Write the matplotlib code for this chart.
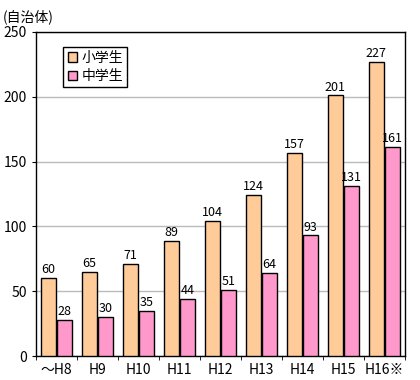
import numpy as np
import matplotlib
matplotlib.use('Agg')
import matplotlib.pyplot as plt
from matplotlib.patches import Patch

plt.rcParams['font.family'] = ['Noto Sans CJK JP', 'DejaVu Sans']

years = ['～H8', 'H9', 'H10', 'H11', 'H12', 'H13', 'H14', 'H15', 'H16※']
elementary = [60, 65, 71, 89, 104, 124, 157, 201, 227]
junior = [28, 30, 35, 44, 51, 64, 93, 131, 161]

c_elem = '#FFCC99'
c_jun = '#FF99CC'

fig = plt.figure(figsize=(4.2, 3.8), dpi=100)
ax = fig.add_axes([0.086, 0.063, 0.878, 0.853])

x = np.arange(len(years))
w = 0.37
b1 = ax.bar(x - w / 2 - 0.01, elementary, w, color=c_elem, edgecolor='black', linewidth=1, zorder=3)
b2 = ax.bar(x + w / 2 + 0.01, junior, w, color=c_jun, edgecolor='black', linewidth=1, zorder=3)

for rects, vals in ((b1, elementary), (b2, junior)):
    for r, v in zip(rects, vals):
        ax.text(r.get_x() + r.get_width() / 2, v + 1.5, str(v), ha='center', va='bottom', fontsize=9)

ax.set_xlim(-0.5, len(years) - 0.5)
ax.set_ylim(0, 250)
ax.set_yticks(range(0, 251, 50))
ax.yaxis.grid(True, color='#BBBBBB', linewidth=1, zorder=0)
ax.set_xticks(x)
ax.set_xticklabels(years, fontsize=10)
ax.set_xticks(np.arange(-0.5, len(years), 1), minor=True)
ax.tick_params(axis='x', which='major', length=0, pad=5)
ax.tick_params(axis='x', which='minor', length=3, direction='out')
ax.tick_params(axis='y', length=3, labelsize=10)
for s in ax.spines.values():
    s.set_linewidth(1)

ax.legend(handles=[Patch(facecolor=c_elem, edgecolor='black', label='小学生'),
                   Patch(facecolor=c_jun, edgecolor='black', label='中学生')],
          loc='upper left', bbox_to_anchor=(0.055, 0.975), fontsize=10,
          fancybox=False, edgecolor='black', framealpha=1,
          handlelength=0.7, handleheight=0.7, handletextpad=0.3, borderpad=0.3,
          labelspacing=0.3)

fig.text(0.007, 0.955, '(自治体)', fontsize=10, ha='left', va='center')

fig.savefig('out.png', dpi=100)
